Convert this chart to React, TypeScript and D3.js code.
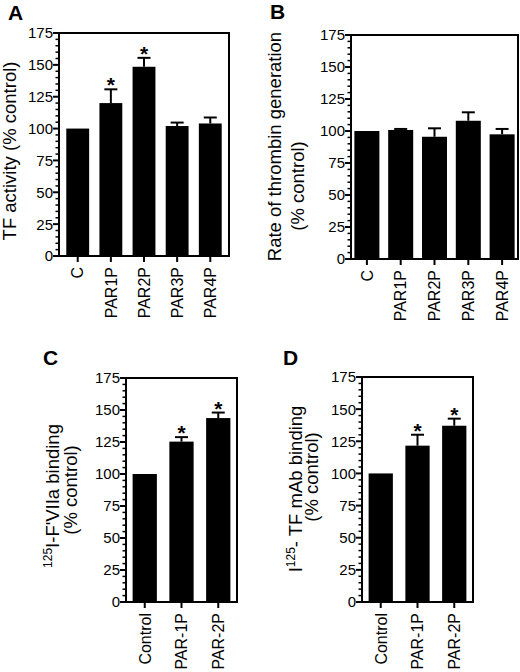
import React from "react";
import * as d3 from "d3";

// values (% of control)
const categoriesA = ["C", "PAR1P", "PAR2P", "PAR3P", "PAR4P"];
const meansA = [100, 120, 148.5, 102, 104];
const errorsA = [0, 10.8, 7, 2.7, 4.7];
const starsA = [false, true, true, false, false];

const categoriesB = ["C", "PAR1P", "PAR2P", "PAR3P", "PAR4P"];
const meansB = [100, 100.8, 95.5, 108, 97.4];
const errorsB = [0, 0.8, 6.6, 6.6, 4.2];
const starsB = [false, false, false, false, false];

const categoriesC = ["Control", "PAR-1P", "PAR-2P"];
const meansC = [100, 125.3, 143.7];
const errorsC = [0, 3.5, 4.3];
const starsC = [false, true, true];

const categoriesD = ["Control", "PAR-1P", "PAR-2P"];
const meansD = [100, 121.6, 137.1];
const errorsD = [0, 8.5, 5.5];
const starsD = [false, true, true];

const yMax = 175;
const majorTicks = [0, 25, 50, 75, 100, 125, 150, 175];
const minorStep = 5;

const FONT = "'Liberation Sans', Arial, Helvetica, sans-serif";

interface TitleLine {
  x: number; // baseline x (rotated text)
  y: number; // centre along the axis
  parts: { text: string; size: number; dy?: number }[];
}

interface PanelProps {
  letter: string;
  letterX: number;
  letterY: number;
  categories: string[];
  means: number[];
  errors: number[];
  stars: boolean[];
  left: number;
  right: number;
  top: number;
  bottom: number;
  padInner: number;
  padOuter: number;
  title: TitleLine[];
}

function Panel(p: PanelProps) {
  const x = d3
    .scaleBand<string>()
    .domain(p.categories)
    .range([p.left, p.right])
    .paddingInner(p.padInner)
    .paddingOuter(p.padOuter);
  const y = d3.scaleLinear().domain([0, yMax]).range([p.bottom, p.top]);
  const minor = d3.range(0, yMax + 0.1, minorStep);
  const bw = x.bandwidth();
  const cap = 13;

  return (
    <g fontFamily={FONT}>
      <text x={p.letterX} y={p.letterY} fontSize={21} fontWeight="bold">
        {p.letter}
      </text>

      {p.title.map((t, i) => (
        <text
          key={i}
          transform={`translate(${t.x},${t.y}) rotate(-90)`}
          textAnchor="middle"
          fontSize={18}
        >
          {t.parts.map((s, j) => (
            <tspan key={j} fontSize={s.size} dy={s.dy ?? 0}>
              {s.text}
            </tspan>
          ))}
        </text>
      ))}

      {/* bars */}
      {p.categories.map((c, i) => (
        <rect
          key={c}
          x={x(c)}
          y={y(p.means[i])}
          width={bw}
          height={p.bottom - y(p.means[i])}
          fill="#000"
        />
      ))}

      {/* error bars (upper only) and asterisks */}
      {p.categories.map((c, i) => {
        const cx = (x(c) as number) + bw / 2;
        const top = y(p.means[i] + p.errors[i]);
        return (
          <g key={c}>
            {p.errors[i] > 0 && (
              <>
                <line x1={cx} x2={cx} y1={y(p.means[i])} y2={top} stroke="#000" strokeWidth={2} />
                <line x1={cx - cap / 2} x2={cx + cap / 2} y1={top} y2={top} stroke="#000" strokeWidth={2} />
              </>
            )}
            {p.stars[i] && (
              <text x={cx} y={top + 3} textAnchor="middle" fontSize={21} fontWeight="bold">
                *
              </text>
            )}
          </g>
        );
      })}

      {/* frame */}
      <path
        d={`M${p.left},${p.top}H${p.right}V${p.bottom}H${p.left}Z`}
        fill="none"
        stroke="#000"
        strokeWidth={2}
      />

      {/* y ticks */}
      {minor.map((v) => {
        const major = v % 25 === 0;
        return (
          <line
            key={v}
            x1={p.left - (major ? 6 : 3.5)}
            x2={p.left}
            y1={y(v)}
            y2={y(v)}
            stroke="#000"
            strokeWidth={major ? 2 : 1.5}
          />
        );
      })}
      {majorTicks.map((v) => (
        <text
          key={v}
          x={p.left - 6}
          y={y(v)}
          dy="0.36em"
          textAnchor="end"
          fontSize={15}
        >
          {v}
        </text>
      ))}

      {/* x ticks and rotated labels */}
      {p.categories.map((c) => {
        const cx = (x(c) as number) + bw / 2;
        return (
          <g key={c}>
            <line x1={cx} x2={cx} y1={p.bottom} y2={p.bottom + 6} stroke="#000" strokeWidth={2} />
            <text
              transform={`translate(${cx},${p.bottom + 11}) rotate(-90)`}
              dy="0.36em"
              textAnchor="end"
              fontSize={16}
            >
              {c}
            </text>
          </g>
        );
      })}
    </g>
  );
}

export default function App() {
  return (
    <svg
      width={520}
      height={672}
      style={{ position: "absolute", left: 0, top: 0, background: "#fff" }}
    >
      <rect width={520} height={672} fill="#fff" />
      <Panel
        letter="A"
        letterX={8}
        letterY={20}
        categories={categoriesA}
        means={meansA}
        errors={errorsA}
        stars={starsA}
        left={59}
        right={229}
        top={33}
        bottom={256}
        padInner={0.31}
        padOuter={0.22}
        title={[{ x: 15.5, y: 151, parts: [{ text: "TF activity (% control)", size: 18.5 }] }]}
      />
      <Panel
        letter="B"
        letterX={270}
        letterY={19}
        categories={categoriesB}
        means={meansB}
        errors={errorsB}
        stars={starsB}
        left={351}
        right={518}
        top={35}
        bottom={259}
        padInner={0.26}
        padOuter={0.1}
        title={[
          { x: 281, y: 146.5, parts: [{ text: "Rate of thrombin generation", size: 18.5 }] },
          { x: 303.5, y: 186, parts: [{ text: "(% control)", size: 18.5 }] },
        ]}
      />
      <Panel
        letter="C"
        letterX={43}
        letterY={365}
        categories={categoriesC}
        means={meansC}
        errors={errorsC}
        stars={starsC}
        left={126}
        right={237}
        top={378}
        bottom={602}
        padInner={0.34}
        padOuter={0.18}
        title={[
          {
            x: 58.5,
            y: 496,
            parts: [
              { text: "125", size: 12, dy: -7 },
              { text: "I-F'VIIa binding", size: 18.5, dy: 7 },
            ],
          },
          { x: 77, y: 490, parts: [{ text: "(% control)", size: 18.5 }] },
        ]}
      />
      <Panel
        letter="D"
        letterX={283}
        letterY={365}
        categories={categoriesD}
        means={meansD}
        errors={errorsD}
        stars={starsD}
        left={362}
        right={473}
        top={377}
        bottom={602}
        padInner={0.34}
        padOuter={0.18}
        title={[
          {
            x: 301.5,
            y: 489,
            parts: [
              { text: "I", size: 18.5 },
              { text: "125", size: 12, dy: -7 },
              { text: "- TF mAb binding", size: 18.5, dy: 7 },
            ],
          },
          { x: 318, y: 477, parts: [{ text: "(% control)", size: 18.5 }] },
        ]}
      />
    </svg>
  );
}
